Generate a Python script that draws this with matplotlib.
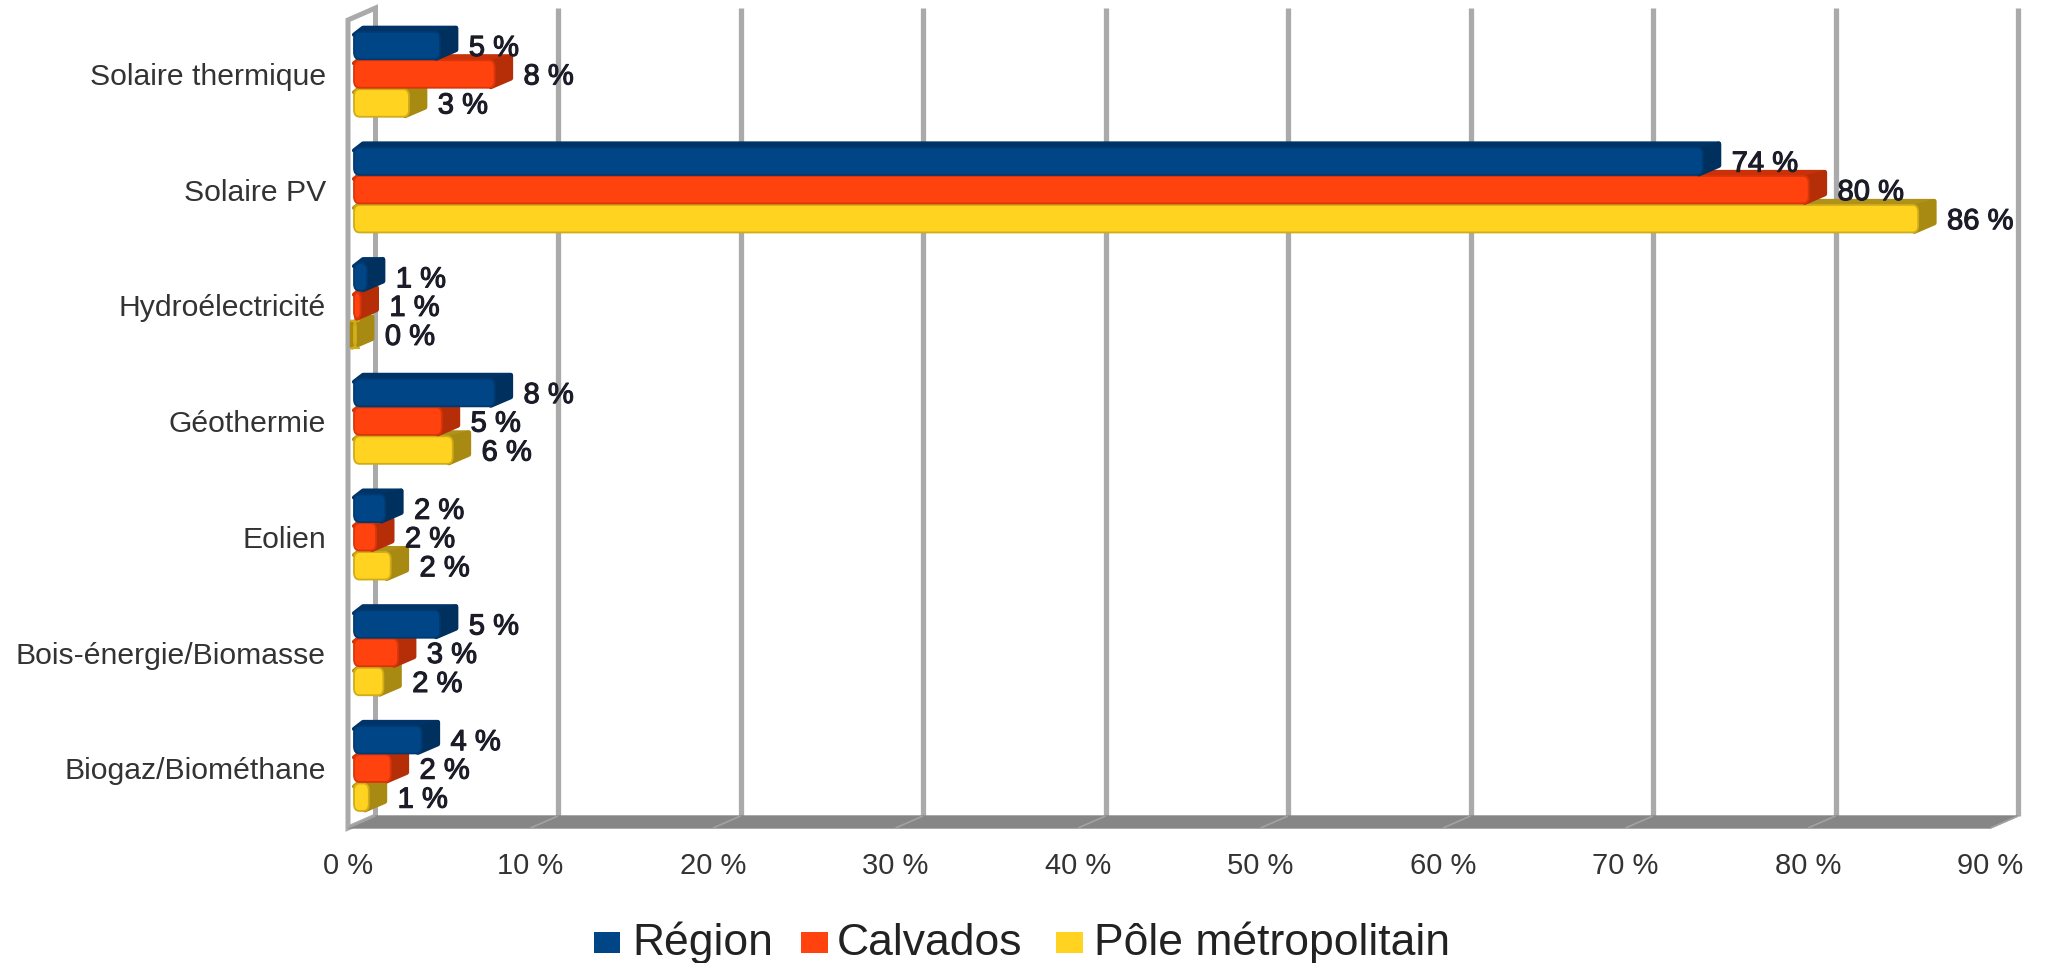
import matplotlib
matplotlib.use("Agg")
import matplotlib.pyplot as plt
from matplotlib.patches import Polygon, FancyBboxPatch, Rectangle
import matplotlib.patheffects as pe

plt.rcParams['font.family'] = ['Liberation Sans', 'DejaVu Sans']

categories = ["Solaire thermique", "Solaire PV", "Hydroélectricité", "Géothermie",
              "Eolien", "Bois-énergie/Biomasse", "Biogaz/Biométhane"]
series_names = ["Région", "Calvados", "Pôle métropolitain"]
region = [4.7, 73.9, 0.7, 7.7, 1.7, 4.7, 3.7]
calvados = [7.7, 79.7, 0.35, 4.8, 1.2, 2.4, 2.0]
pole = [3.0, 85.7, 0.1, 5.4, 2.0, 1.6, 0.8]
region_labels = ["5 %", "74 %", "1 %", "8 %", "2 %", "5 %", "4 %"]
calvados_labels = ["8 %", "80 %", "1 %", "5 %", "2 %", "3 %", "2 %"]
pole_labels = ["3 %", "86 %", "0 %", "6 %", "2 %", "2 %", "1 %"]
xticks = list(range(0, 100, 10))
xtick_labels = [f"{v} %" for v in xticks]

W, H = 2047, 963
fig = plt.figure(figsize=(W / 100, H / 100), dpi=100, facecolor="white")

# front plane of the chart in pixels
x0, x1, ytop, ybot = 348, 1990.5, 20, 828
ax = fig.add_axes([x0 / W, 1 - ybot / H, (x1 - x0) / W, (ybot - ytop) / H])
pitch = 115.7
ax.set_xlim(0, 90)
ax.set_ylim((ybot - 74) / pitch, -(74 - ytop) / pitch)
ax.patch.set_alpha(0)
for s in ax.spines.values():
    s.set_visible(False)

pxx = 90 / (x1 - x0)   # data units per pixel, x
pxy = 1 / pitch        # data units per pixel, y

GRID = "#aaaaaa"
back_dx, back_dy = 27.5 * pxx, -12 * pxy
y_bot_d, y_top_d = ax.get_ylim()

# left wall
ax.add_patch(Polygon([(0, y_bot_d), (0, y_top_d), (back_dx, y_top_d + back_dy),
                      (back_dx, y_bot_d + back_dy)], closed=True, facecolor="white",
                     edgecolor=GRID, lw=3.6, clip_on=False, zorder=1, joinstyle="miter"))
# back-wall grid lines
ax.vlines([v + back_dx for v in xticks[1:]], y_bot_d + back_dy, y_top_d + back_dy,
          color=GRID, lw=3.8, zorder=1, clip_on=False)
# floor
ax.add_patch(Polygon([(0, y_bot_d), (back_dx, y_bot_d + back_dy), (90 + back_dx, y_bot_d + back_dy),
                      (90, y_bot_d)], closed=True, facecolor="#868686", edgecolor="#868686",
                     lw=1, clip_on=False, zorder=2))
for v in xticks:
    ax.plot([v, v + back_dx], [y_bot_d, y_bot_d + back_dy], color="#a2a2a2", lw=1.2,
            zorder=2.1, clip_on=False, solid_capstyle="butt")

ax.set_xticks(xticks, xtick_labels)
ax.set_yticks(range(len(categories)), categories)
ax.tick_params(axis="x", length=0, pad=17, labelsize=21, labelcolor="#333333")
ax.tick_params(axis="y", length=0, pad=16, labelsize=21.7, labelcolor="#333333")

# colours: front, side, top, strip
styles = [("#004586", "#00305d", "#003468", "#003a70"),
          ("#ff420e", "#b52e08", "#c93208", "#d93509"),
          ("#ffd320", "#a88a12", "#b0921a", "#d0ac18")]
series = [region, calvados, pole]
labels = [region_labels, calvados_labels, pole_labels]
bar_h = 27.5 * pxy
start = 6 * pxx
depth_x, depth_y = 18 * pxx, 5.5 * pxy
lab_gap = 11 * pxx
offsets = [-28.5 * pxy, 0, 29 * pxy]

for s in (2, 1, 0):
    front, side, top, strip = styles[s]
    z = 5 + (2 - s) * 0.5
    ys = [i + offsets[s] for i in range(len(categories))]
    bars = ax.barh(ys, series[s], height=bar_h, left=start, color="none", zorder=z)
    for b, v in zip(bars, series[s]):
        xa, ya, w, h = b.get_x(), b.get_y(), b.get_width(), b.get_height()
        xb = xa + w
        ax.add_patch(Polygon([(xa + depth_x * .5, ya - depth_y + 1.5 * pxy),
                              (xb + depth_x - .1, ya - depth_y + 1.5 * pxy),
                              (xb, ya + 3 * pxy), (xa, ya + 3 * pxy)], closed=True, facecolor=top,
                             edgecolor=top, lw=3, joinstyle="round", zorder=z, clip_on=False))
        ax.add_patch(Polygon([(xb - .2, ya + 2 * pxy), (xb + depth_x - .1, ya - depth_y + 2 * pxy),
                              (xb + depth_x - .1, ya + h - depth_y - 4 * pxy), (xb - .2, ya + h - 1 * pxy)],
                             closed=True, facecolor=side, edgecolor=side, lw=3.5,
                             joinstyle="round", zorder=z, clip_on=False))
        ax.add_patch(FancyBboxPatch((xa, ya), w + 0.01, h,
                                    boxstyle="round,pad=0,rounding_size=0.3",
                                    mutation_aspect=(7 * pxy) / 0.3, facecolor=front,
                                    edgecolor=strip, lw=1.3, zorder=z + .1, clip_on=False))
    for y, v, t in zip(ys, series[s], labels[s]):
        ax.text(start + v + depth_x + lab_gap, y + 2.5 * pxy, t, ha="left", va="center",
                fontsize=21, color="#1c1c28", zorder=9,
                path_effects=[pe.withStroke(linewidth=0.8, foreground="#1c1c28")])

# legend
legend_x = [(594, 620), (801, 828), (1056, 1083)]
legend_text_x = [632, 837, 1094]
for (a, b), tx, name, st in zip(legend_x, legend_text_x, series_names, styles):
    fig.add_artist(Rectangle((a / W, 1 - 953 / H), (b - a) / W, 21 / H, transform=fig.transFigure,
                             facecolor=st[0], edgecolor="none"))
    fig.text(tx / W, 1 - 955 / H, name, ha="left", va="baseline", fontsize=32, color="#222222")

fig.savefig("out.png", dpi=100, facecolor="white")
